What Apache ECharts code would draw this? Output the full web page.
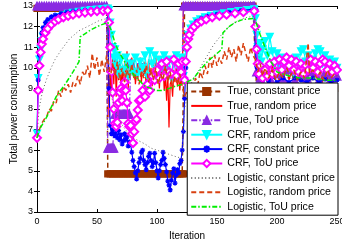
<!DOCTYPE html>
<html>
<head>
<meta charset="UTF-8">
<title></title>
<style>
  html, body { margin: 0; padding: 0; background: #fff; }
  #container { width: 342px; height: 242px; }
</style>
</head>
<body>
<div id="container"></div>
<script src="https://cdn.jsdelivr.net/npm/echarts@6/dist/echarts.min.js"></script>
<script>
// legend names, in drawing order
var seriesNames = [
  'True, constant price', 'True, random price', 'True, ToU price',
  'CRF, random price', 'CRF, constant price', 'CRF, ToU price',
  'Logistic, constant price', 'Logistic, random price', 'Logistic, ToU price'
];

// [iteration, total power consumption]
var trueConstant = [
  [0,12.88],[2,12.88],[4,12.88],[6,12.88],[8,12.88],[10,12.88],[12,12.88],[14,12.88],[16,12.88],[18,12.88],
  [20,12.88],[22,12.88],[24,12.88],[26,12.88],[28,12.88],[30,12.88],[32,12.88],[34,12.88],[36,12.88],[38,12.88],
  [40,12.88],[42,12.88],[44,12.88],[46,12.88],[48,12.88],[50,12.88],[52,12.88],[54,12.88],[56,12.88],[58,12.88],
  [59,4.85],[61,4.85],[63,4.85],[65,4.85],[67,4.85],[69,4.85],[71,4.85],[73,4.85],[75,4.85],[77,4.85],
  [79,4.85],[81,4.85],[83,4.85],[85,4.85],[87,4.85],[89,4.85],[91,4.85],[93,4.85],[95,4.85],[97,4.85],
  [99,4.85],[101,4.85],[103,4.85],[105,4.85],[107,4.85],[109,4.85],[111,4.85],[113,4.85],[115,4.85],[117,4.85],
  [119,4.85],[121,4.85],[122,4.85],
  [123,13],[126,13],[129,13],[132,13],[135,13],[138,13],[141,13],[144,13],[147,13],[150,13],
  [153,13],[156,13],[159,13],[162,13],[165,13],[168,13],[171,13],[174,13],[177,13],[180,13],
  [183,9],[195,9],[210,9],[225,9],[240,9],[248,9]
];

var trueRandom = [
  [0,13],[20,13],[40,13],[59,13],
  [60,7.6],[61,9.8],[62,8.8],[63,10.6],[64,9.2],[65,10.9],[66,8.6],[67,10.2],[68,9.4],[69,10.7],
  [70,8.9],[71,9.9],[72,8.7],[73,10.3],[74,9.5],[75,10.8],[76,9.0],[77,10.1],[78,9.6],[79,10.5],
  [80,9.9],[81,10.4],[82,9.2],[83,9.25],[84,10.2],[85,9.7],[86,10.5],[87,9.3],[88,10.1],[89,9.6],
  [90,10.3],[91,8.9],[92,9.8],[93,10.4],[94,9.4],[95,10.0],[96,9.1],[97,10.2],[98,9.5],[99,10.6],
  [100,9.3],[101,9.9],[102,9.0],[103,10.1],[104,9.7],[105,10.3],[106,8.9],[107,9.6],[108,8.4],[109,9.8],
  [110,7.1],[111,9.2],[112,9.4],[113,8.6],[114,9.9],[115,9.3],[116,10.0],[117,9.1],[118,9.7],[119,8.9],
  [120,9.5],[121,9.2],
  [122,13],[150,13],[182,13],
  [183,9.6],[184,10.1],[185,9.3],[186,9.9],[187,9.4],[188,10.2],[189,9.5],[190,9.8],[192,9.3],[193,10.0],
  [195,9.4],[196,10.3],[198,9.5],[200,9.9],[202,9.3],[204,10.1],[206,9.6],[208,10.2],[210,9.4],[212,9.8],
  [214,9.3],[216,10.0],[218,9.5],[220,9.9],[222,9.3],[224,10.2],[226,9.6],[228,9.9],[230,9.4],[232,10.1],
  [234,9.5],[236,9.8],[238,9.3],[240,10.0],[242,9.4],[244,9.9],[246,9.5],[248,10.1],[250,9.6]
];

var trueToU = [
  [0,13],[2,13],[4,13],[6,13],[8,13],[10,13],[12,13],[14,13],[16,13],[18,13],
  [20,13],[22,13],[24,13],[26,13],[28,13],[30,13],[32,13],[34,13],[36,13],[38,13],
  [40,13],[42,13],[44,13],[46,13],[48,13],[50,13],[52,13],[54,13],[56,13],[58,13],
  [59,6.1],[60,6.1],[61,6.1],[62,6.1],[63,6.1],[64,6.1],
  [65,7.75],[66,7.75],[67,7.75],[68,7.75],[69,7.75],[70,7.75],[71,7.75],[72,7.75],[73,7.75],[74,7.75],
  [75,7.75],[76,7.75],[77,7.75],
  [78,10.2],[121,10.2],
  [122,13],[124,13],[126,13],[128,13],[130,13],[132,13],[134,13],[136,13],[138,13],[140,13],
  [142,13],[144,13],[146,13],[148,13],[150,13],[152,13],[154,13],[156,13],[158,13],[160,13],
  [162,13],[164,13],[166,13],[168,13],[170,13],[172,13],[174,13],[176,13],[178,13],[180,13],[181,13],
  [183,9.8],[186,9.5],[190,9.9],[195,9.4],[200,9.7],[205,9.5],[210,9.9],[215,9.4],[220,9.6],[225,9.5],
  [230,9.8],[235,9.4],[240,9.75],[242,9.8],[245,9.5],[250,9.6]
];

var crfRandom = [
  [0,6.8],[1,9.5],[2,10.4],[3,10.9],[4,11.3],[5,11.5],[7,11.8],[9,12.0],[12,12.2],[15,12.35],
  [18,12.45],[22,12.55],[26,12.62],[30,12.67],[35,12.72],[40,12.76],[45,12.8],[50,12.83],[55,12.85],[59,12.87],
  [60,12.8],[61,12.2],[62,11.6],[63,11.0],[64,10.5],[65,10.9],[66,10.1],[67,10.6],[68,9.7],[70,10.4],
  [72,9.9],[74,10.5],[76,9.6],[78,10.2],[80,9.8],[82,10.5],[84,9.7],[86,10.3],[88,10.0],[90,10.6],
  [92,9.6],[94,10.8],[96,10.2],[98,10.6],[100,9.9],[102,10.4],[104,10.0],[106,10.6],[108,9.9],[110,10.4],
  [112,9.5],[114,10.2],[116,10.6],[118,10.0],[120,10.5],[121,10.2],
  [122,9.6],[123,10.2],[124,10.9],[125,11.3],[126,11.6],[128,11.9],[130,12.1],[133,12.25],[136,12.35],[140,12.45],
  [145,12.52],[150,12.58],[156,12.64],[162,12.7],[168,12.75],[175,12.8],[181,12.84],
  [182,12.4],[183,11.6],[184,11.0],[185,10.5],[186,11.2],[187,10.3],[188,10.9],[190,11.3],[192,10.6],[194,11.5],
  [196,10.8],[198,10.2],[200,10.7],[202,10.1],[204,10.5],[206,9.9],[208,10.4],[210,10.0],[212,10.3],[214,9.8],
  [216,10.5],[218,10.2],[220,10.8],[222,10.9],[224,10.3],[226,10.6],[228,10.0],[230,10.4],[232,10.7],[234,10.9],
  [236,10.8],[238,10.2],[240,10.6],[242,10.0],[244,10.4],[246,10.1],[248,10.3],[250,10.0]
];

var crfConstant = [
  [0,6.7],[1,9.4],[2,10.6],[3,11.3],[4,11.7],[5,11.95],[7,12.2],[9,12.35],[12,12.48],[15,12.56],
  [20,12.64],[25,12.7],[30,12.74],[35,12.77],[40,12.8],[45,12.82],[50,12.84],[55,12.86],[59,12.87],
  [60,9.0],[61,7.2],[62,6.8],[63,7.0],[64,6.8],[65,6.7],[66,7.0],[67,6.6],[68,6.95],[69,6.5],
  [70,6.75],[71,6.3],[72,6.45],[73,6.8],[74,6.5],[75,6.65],[76,6.2],[77,6.4],[78,6.3],[79,5.9],
  [80,5.5],[81,5.2],[82,4.9],[83,4.6],[84,5.0],[85,5.4],[86,5.6],[87,5.9],[88,6.0],[89,5.5],
  [90,5.3],[91,5.05],[92,5.4],[93,5.7],[94,5.85],[95,5.5],[96,5.2],[97,5.4],[98,5.85],[99,5.4],
  [100,5.0],[101,4.65],[102,5.0],[103,5.3],[104,5.5],[105,5.9],[106,5.6],[107,5.3],[108,4.95],[109,4.5],
  [110,4.3],[111,4.07],[112,4.55],[113,4.9],[114,5.1],[115,4.4],[116,4.8],[117,5.05],[118,4.9],[119,5.35],
  [120,5.5],[121,6.0],[122,6.9],[123,8.5],[124,10.0],[125,10.9],[126,11.4],[128,11.8],[130,12.05],[133,12.25],
  [137,12.4],[142,12.5],[150,12.6],[160,12.7],[170,12.78],[181,12.85],
  [182,11.0],[183,10.05],[184,9.6],[186,9.8],[188,9.4],[190,9.7],[193,9.35],[196,9.6],[200,9.3],[205,9.5],
  [210,9.3],[215,9.5],[220,9.4],[225,9.3],[230,9.5],[235,9.3],[240,9.45],[245,9.3],[250,9.4]
];

var crfToU = [
  [0,6.6],[1,8.9],[2,10.1],[3,10.75],[4,11.15],[5,11.4],[7,11.7],[9,11.9],[12,12.1],[15,12.25],
  [18,12.35],[22,12.45],[26,12.52],[30,12.58],[35,12.64],[40,12.68],[45,12.72],[50,12.75],[55,12.77],[59,12.78],
  [60,12.2],[61,11.0],[62,9.8],[63,8.8],[64,8.0],[65,7.3],[66,7.15],[67,7.35],[68,8.3],[69,8.8],
  [70,9.0],[71,8.4],[72,8.9],[73,9.3],[74,8.9],[75,8.3],[76,7.3],[77,7.15],[78,7.2],[79,6.8],
  [80,6.35],[81,6.9],[82,7.4],[83,7.5],[84,7.95],[85,8.4],[86,8.45],[88,8.9],[90,8.6],[92,9.2],
  [94,8.9],[96,9.6],[98,9.4],[100,9.9],[102,9.5],[104,10.2],[106,9.6],[108,10.3],[110,9.8],[112,9.7],
  [114,10.4],[116,9.6],[118,10.2],[120,9.8],[121,10.3],
  [122,9.5],[123,9.4],[124,10.3],[125,11.0],[126,11.4],[127,11.6],[129,11.85],[131,12.0],[134,12.15],[137,12.25],
  [141,12.35],[146,12.45],[152,12.52],[158,12.58],[165,12.64],[172,12.7],[181,12.75],
  [182,12.0],[183,10.9],[184,10.2],[185,9.7],[186,10.1],[188,9.5],[190,9.9],[192,9.6],[194,10.2],[196,9.7],
  [198,10.3],[200,9.8],[202,10.4],[204,9.9],[206,10.3],[208,10.5],[210,10.1],[212,10.4],[214,9.9],[216,10.3],
  [218,9.8],[220,10.2],[222,9.7],[224,10.1],[226,9.9],[228,10.4],[230,10.0],[232,10.3],[234,9.8],[236,10.2],
  [238,10.4],[240,10.3],[242,9.9],[244,10.2],[246,9.8],[248,10.1],[250,9.9]
];

var logConstant = [
  [0,6.6],[1,7.5],[2,8.1],[4,8.7],[6,9.1],[8,9.45],[11,9.9],[15,10.4],[20,10.85],[27,11.4],
  [35,11.8],[42,12.0],[52,12.3],[59,12.4],
  [60,9.5],[62,8.6],[65,8.0],[70,7.3],[75,6.9],[80,6.6],[85,6.45],[90,6.3],[95,6.1],[100,6.0],
  [105,5.9],[110,5.8],[115,5.7],[121,5.6],
  [122,7.0],[123,8.0],[125,8.6],[128,9.2],[133,9.7],[139,10.3],[147,11.1],[155,11.7],[161,12.05],[168,12.3],
  [175,12.45],[181,12.5],
  [182,11.5],[184,10.8],[186,10.3],[190,9.9],[195,9.7],[200,9.6],[210,9.5],[220,9.45],[230,9.4],[240,9.4],[250,9.35]
];

var logRandom = [
  [0,6.6],[2,7.0],[4,7.3],[6,7.5],[8,7.6],[10,8.0],[12,7.9],[14,8.4],[16,8.3],[18,8.9],
  [20,8.6],[22,9.1],[24,8.9],[26,9.2],[28,8.8],[30,9.3],[32,9.1],[34,9.6],[36,9.2],[38,9.8],
  [40,9.6],[42,10.1],[44,9.5],[46,10.7],[48,9.9],[50,10.5],[52,9.6],[54,10.4],[56,9.8],[58,10.6],[60,10.1],
  [61,9.5],[63,10.2],[65,9.6],[67,10.3],[69,9.4],[71,10.0],[73,9.3],[75,9.9],[77,9.5],[79,10.2],
  [81,9.4],[83,9.9],[85,9.2],[87,9.8],[89,9.5],[91,10.1],[93,9.3],[95,9.9],[97,9.4],[99,10.0],
  [101,9.2],[103,9.7],[105,9.4],[107,10.1],[109,9.3],[111,9.8],[113,9.0],[115,9.6],[117,9.2],[119,9.7],[121,9.1],
  [123,8.6],[126,9.0],[128,9.25],[130,8.9],[132,9.5],[134,9.2],[136,9.8],[138,9.5],[140,10.1],[142,9.7],
  [144,10.5],[146,10.0],[148,10.6],[150,10.1],[152,10.5],[154,10.2],[156,10.8],[158,10.4],[160,11.0],[162,10.5],
  [164,10.9],[166,10.3],[168,11.1],[170,10.6],[172,11.2],[174,10.7],[176,10.3],[178,11.0],[180,10.6],
  [182,10.4],[184,9.8],[186,10.2],[188,9.6],[190,10.0],[193,9.5],[196,9.9],[199,9.4],[202,9.8],[205,9.5],
  [208,10.0],[211,9.6],[214,9.9],[217,9.4],[220,9.8],[223,9.5],[226,11.2],[227,9.7],[230,9.9],[233,9.5],
  [236,9.8],[239,9.4],[242,9.9],[245,9.5],[248,9.7],[250,9.6]
];

var logToU = [
  [0,6.6],[2,7.0],[8,7.6],[16,8.6],[24,9.25],[30,9.8],[35,10.3],[36,11.5],[45,11.85],[52,12.05],[59,12.2],
  [60,12.2],[62,11.8],[65,11.2],[68,10.8],[72,10.4],[76,10.0],[80,9.7],[85,9.4],[90,9.1],[95,9.0],
  [100,8.9],[105,8.9],[110,9.0],[115,9.1],[121,9.2],
  [122,9.2],[130,9.45],[136,9.9],[142,10.3],[148,10.6],[154,10.9],[155,11.7],[160,12.0],[165,12.2],[172,12.35],[181,12.4],
  [182,12.3],[186,11.6],[190,11.0],[195,10.3],[200,9.8],[210,9.6],[220,9.5],[230,9.5],[240,9.4],[250,9.4]
];

var seriesData = [trueConstant, trueRandom, trueToU, crfRandom, crfConstant, crfToU, logConstant, logRandom, logToU];

var starPath = 'path://M5,0L5,10M0,5L10,5M1.5,1.5L8.5,8.5M1.5,8.5L8.5,1.5';

var looks = [
  { color: '#993300', dash: [5, 3], symbol: 'rect', size: 6, width: 1.5 },
  { color: '#ff0000', dash: 'solid', symbol: 'none', size: 0, width: 1.2 },
  { color: '#8a2be2', dash: [6, 2, 1.5, 2], symbol: 'triangle', size: 8, width: 1.2 },
  { color: '#00ffff', dash: 'solid', symbol: 'triangle', size: 7, width: 1.2, rotate: 180 },
  { color: '#0000ff', dash: 'solid', symbol: starPath, size: 5, width: 1.2 },
  { color: '#ff00ff', dash: 'solid', symbol: 'emptyDiamond', size: 8, width: 1.2 },
  { color: '#666666', dash: [1, 2.5], symbol: 'none', size: 0, width: 1 },
  { color: '#d84010', dash: [5, 3], symbol: 'none', size: 0, width: 1.5 },
  { color: '#00ee00', dash: [5, 2, 1.5, 2], symbol: 'none', size: 0, width: 1.5 }
];

var font = 'Liberation Sans, Arial, sans-serif';

var series = seriesNames.map(function (name, i) {
  var s = looks[i];
  return {
    name: name,
    type: 'line',
    data: seriesData[i],
    symbol: s.symbol,
    symbolSize: s.size,
    symbolRotate: s.rotate || 0,
    showSymbol: s.symbol !== 'none',
    color: s.color,
    lineStyle: { color: s.color, width: s.width, type: s.dash },
    itemStyle: { color: s.color, borderColor: s.color, borderWidth: 1.2 },
    z: 2 + i * 0.01,
    animation: false
  };
});

// plain-line entries get an invisible legend marker
var legendData = seriesNames.map(function (name, i) {
  if (looks[i].symbol !== 'none') return { name: name };
  return { name: name, itemStyle: { opacity: 0, color: 'rgba(0,0,0,0)', borderColor: 'rgba(0,0,0,0)', borderWidth: 0 } };
});

var myChart = echarts.init(document.getElementById('container'));
myChart.setOption({
  animation: false,
  backgroundColor: '#fff',
  grid: { left: 37, right: 5, top: 6, bottom: 30, containLabel: false, outerBoundsMode: 'none' },
  xAxis: [
    {
      type: 'value', min: 0, max: 250, interval: 50,
      name: 'Iteration', nameLocation: 'middle', nameGap: 19,
      nameTextStyle: { fontSize: 10, color: '#000', fontFamily: font },
      axisLine: { lineStyle: { color: '#000', width: 1 } },
      axisTick: { inside: true, length: 3, lineStyle: { color: '#000' } },
      axisLabel: { fontSize: 9, color: '#000', margin: 5, fontFamily: font },
      splitLine: { show: false }
    },
    {
      type: 'value', min: 0, max: 250, interval: 50, position: 'top',
      axisLine: { lineStyle: { color: '#000', width: 1 } },
      axisTick: { inside: true, length: 3, lineStyle: { color: '#000' } },
      axisLabel: { show: false }, splitLine: { show: false }
    }
  ],
  yAxis: [
    {
      type: 'value', min: 3, max: 13, interval: 1,
      name: 'Total power consumption', nameLocation: 'middle', nameGap: 18,
      nameMoveOverlap: false,
      nameTextStyle: { fontSize: 10, color: '#000', fontFamily: font },
      axisLine: { lineStyle: { color: '#000', width: 1 } },
      axisTick: { inside: true, length: 3, lineStyle: { color: '#000' } },
      axisLabel: { fontSize: 9, color: '#000', margin: 4, fontFamily: font },
      splitLine: { show: false }
    },
    {
      type: 'value', min: 3, max: 13, interval: 1, position: 'right',
      axisLine: { lineStyle: { color: '#000', width: 1 } },
      axisTick: { inside: true, length: 3, lineStyle: { color: '#000' } },
      axisLabel: { show: false }, splitLine: { show: false }
    }
  ],
  legend: {
    orient: 'vertical',
    right: 4, top: 83,
    itemWidth: 31, itemHeight: 9, itemGap: 3.4,
    padding: [3, 3, 3, 3],
    backgroundColor: '#fff',
    borderColor: '#000', borderWidth: 1, borderRadius: 0,
    textStyle: { fontSize: 10.6, color: '#000', fontFamily: font },
    data: legendData
  },
  series: series
});
</script>
</body>
</html>
